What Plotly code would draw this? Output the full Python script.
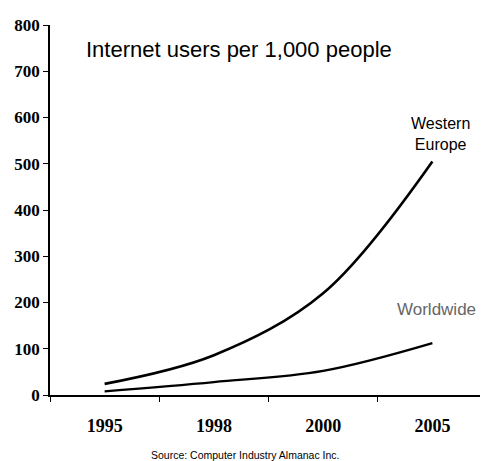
import plotly.graph_objects as go

years = ["1995", "1998", "2000", "2005"]
western_europe = [24, 86, 220, 505]
worldwide = [8, 28, 52, 112]
y_ticks = [0, 100, 200, 300, 400, 500, 600, 700, 800]

# page body has an 8px margin; plot area should span x 50..487, y 25..395 in the page
L, T = 50, 25
PW, PH = 437, 370


def px(x):
    return (x - L) / PW


def py(y):
    return (T + PH - y) / PH


fig = go.Figure()
fig.add_trace(go.Scatter(x=years, y=western_europe, mode="lines",
                         line=dict(color="black", width=2.6, shape="spline", smoothing=1.0),
                         name="Western Europe"))
fig.add_trace(go.Scatter(x=years, y=worldwide, mode="lines",
                         line=dict(color="black", width=2.3, shape="spline", smoothing=1.0),
                         name="Worldwide"))

fig.update_layout(
    width=480, height=453,
    margin=dict(l=42, r=1, t=17, b=66),
    paper_bgcolor="white", plot_bgcolor="white",
    showlegend=False,
    xaxis=dict(type="category", range=[-0.5, 3.5], tickson="boundaries",
               ticks="outside", ticklen=5, tickcolor="black",
               showline=True, linecolor="black", linewidth=1.5, showgrid=False,
               ticklabelstandoff=14,
               tickfont=dict(family="Liberation Serif", size=18, color="black", weight="bold"),
               zeroline=False),
    yaxis=dict(range=[0, 800], tickvals=y_ticks, ticks="outside", ticklen=5,
               tickcolor="black", showline=True, linecolor="black", linewidth=1.5,
               showgrid=False, zeroline=False,
               tickfont=dict(family="Liberation Serif", size=17, color="black", weight="bold")),
    annotations=[
        dict(text="Internet users per 1,000 people", xref="paper", yref="paper",
             x=px(84), y=py(50), xanchor="left", yanchor="middle",
             showarrow=False, font=dict(family="Liberation Sans", size=22, color="black")),
        dict(text="Western<br>Europe", xref="paper", yref="paper",
             x=px(440), y=py(134), xanchor="center", yanchor="middle", showarrow=False,
             font=dict(family="Liberation Sans", size=16, color="black")),
        dict(text="Worldwide", xref="paper", yref="paper",
             x=px(436), y=py(309), xanchor="center", yanchor="middle", showarrow=False,
             font=dict(family="Liberation Sans", size=17, color="#666666")),
        dict(text="Source: Computer Industry Almanac Inc.", xref="paper", yref="paper",
             x=px(245), y=py(455), xanchor="center", yanchor="middle",
             showarrow=False, font=dict(family="Liberation Sans", size=10.5, color="black")),
    ],
)

fig.write_html("out.html")
